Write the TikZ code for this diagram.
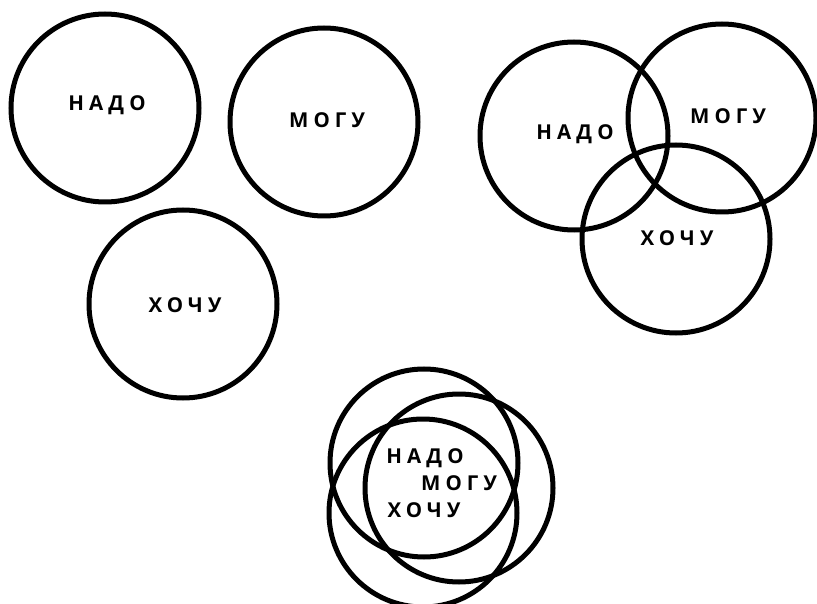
\documentclass[tikz,border=0pt]{standalone}
\usepackage{fontspec}
\newfontfamily\wordfont[LetterSpace=25,BoldFont={Open Sans Bold}]{Open Sans}
\usepackage{tikz}
\usetikzlibrary{positioning}

\tikzset{
    ring/.style={circle,draw,line width=5pt,minimum size=188pt,inner sep=0pt},
    word/.style={inner sep=0pt,font=\fontsize{20.5}{22}\wordfont\bfseries}
}

\begin{document}
\begin{tikzpicture}[x=1pt,y=-1pt]
    \useasboundingbox (0,0) rectangle (817,604);

    % three separate circles
    \node[ring] (nadoA) at (105,108) {};
    \node[ring] (moguA) at (324,122) {};
    \node[ring] (hochuA) at (183,304) {};
    \node[word] (tnadoA) at (107,105) {НАДО};
    \node[word] (tmoguA) at (327,120) {МОГУ};
    \node[word] (thochuA) at (185,305) {ХОЧУ};

    % overlapping circles
    \node[ring] (nadoB) at (574,136) {};
    \node[ring] (moguB) at (722,118) {};
    \node[ring] (hochuB) at (676,239) {};
    \node[word] (tnadoB) at (575,134) {НАДО};
    \node[word] (tmoguB) at (728,116) {МОГУ};
    \node[word] (thochuB) at (677,238) {ХОЧУ};

    % nearly coinciding circles
    \node[ring] (nadoC) at (424,463) {};
    \node[ring] (moguC) at (459,488) {};
    \node[ring] (hochuC) at (423,513) {};
    \node[word] (tnadoC) at (425,458) {НАДО};
    \node[word] (tmoguC) at (459,483) {МОГУ};
    \node[word] (thochuC) at (424,510) {ХОЧУ};
\end{tikzpicture}
\end{document}
